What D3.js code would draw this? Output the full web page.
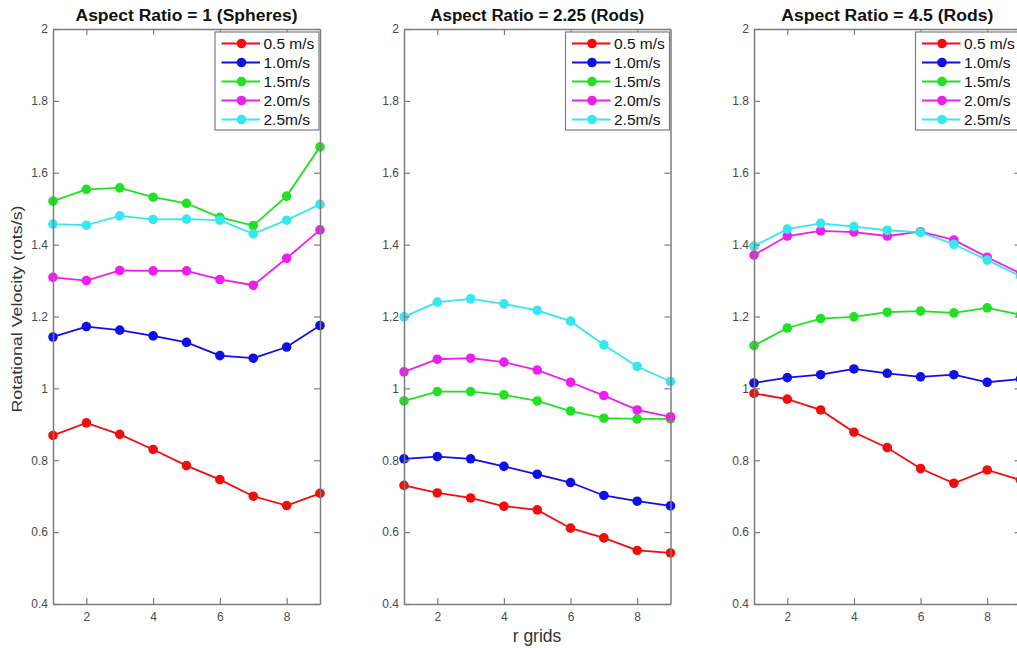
<!DOCTYPE html>
<html>
<head>
<meta charset="utf-8">
<script src="https://cdn.jsdelivr.net/npm/d3@7"></script>
<style>
  html, body { margin: 0; padding: 0; background: #fff; }
  svg { display: block; font-family: "Liberation Sans", Arial, Helvetica, sans-serif; }
</style>
</head>
<body>
<svg id="chart" width="1017" height="648"></svg>
<script>
// ---- data ----
const rGrids = [1, 2, 3, 4, 5, 6, 7, 8, 9];
const panelTitles = ["Aspect Ratio = 1 (Spheres)", "Aspect Ratio = 2.25 (Rods)", "Aspect Ratio = 4.5 (Rods)"];
const seriesNames = ["0.5 m/s", "1.0m/s", "1.5m/s", "2.0m/s", "2.5m/s"];
const xTicks = [2, 4, 6, 8];
const yTicks = [0.4, 0.6, 0.8, 1, 1.2, 1.4, 1.6, 1.8, 2];

// Aspect ratio 1 (spheres)
const ar1_05 = [0.869, 0.904, 0.872, 0.830, 0.785, 0.746, 0.700, 0.674, 0.708];
const ar1_10 = [1.143, 1.172, 1.162, 1.146, 1.128, 1.091, 1.084, 1.115, 1.175];
const ar1_15 = [1.521, 1.554, 1.558, 1.532, 1.515, 1.476, 1.453, 1.535, 1.672];
const ar1_20 = [1.309, 1.300, 1.328, 1.327, 1.327, 1.303, 1.287, 1.362, 1.441];
const ar1_25 = [1.457, 1.454, 1.480, 1.470, 1.471, 1.468, 1.430, 1.468, 1.512];

// Aspect ratio 2.25 (rods)
const ar225_05 = [0.730, 0.709, 0.695, 0.672, 0.662, 0.611, 0.584, 0.549, 0.542];
const ar225_10 = [0.804, 0.810, 0.804, 0.783, 0.761, 0.738, 0.702, 0.686, 0.673];
const ar225_15 = [0.965, 0.991, 0.991, 0.982, 0.965, 0.937, 0.917, 0.915, 0.915];
const ar225_20 = [1.046, 1.081, 1.084, 1.073, 1.051, 1.017, 0.980, 0.940, 0.921];
const ar225_25 = [1.199, 1.240, 1.249, 1.235, 1.217, 1.187, 1.121, 1.061, 1.019];

// Aspect ratio 4.5 (rods)
const ar45_05 = [0.986, 0.970, 0.940, 0.878, 0.835, 0.777, 0.736, 0.773, 0.745];
const ar45_10 = [1.015, 1.030, 1.038, 1.054, 1.042, 1.032, 1.038, 1.017, 1.026];
const ar45_15 = [1.119, 1.168, 1.194, 1.199, 1.212, 1.215, 1.210, 1.224, 1.205];
const ar45_20 = [1.371, 1.424, 1.438, 1.435, 1.424, 1.436, 1.413, 1.365, 1.320];
const ar45_25 = [1.396, 1.443, 1.459, 1.450, 1.440, 1.434, 1.401, 1.357, 1.312];

const panelData = [
  [ar1_05, ar1_10, ar1_15, ar1_20, ar1_25],
  [ar225_05, ar225_10, ar225_15, ar225_20, ar225_25],
  [ar45_05, ar45_10, ar45_15, ar45_20, ar45_25]
];

// ---- styles / layout ----
const colors = ["#f20d0d", "#1010e6", "#22e022", "#ee1eee", "#35e8f0"];
const axisColor = "#7d7d7d";
const tickTextColor = "#4a4a4a";
const panelX = [[53, 320], [404, 670.5], [754, 1020.5]];
const plotTop = 29, plotBottom = 604;

const svg = d3.select("#chart");

panelData.forEach((series, p) => {
  const [x0, x1] = panelX[p];
  const x = d3.scaleLinear().domain([1, 9]).range([x0, x1]);
  const y = d3.scaleLinear().domain([0.4, 2]).range([plotBottom, plotTop]);
  const g = svg.append("g");

  // data lines
  const line = d3.line().x((d, i) => x(rGrids[i])).y(d => y(d));
  series.forEach((vals, s) => {
    g.append("path").datum(vals)
      .attr("d", line).attr("fill", "none")
      .attr("stroke", colors[s]).attr("stroke-width", 1.8);
    g.selectAll(null).data(vals).enter().append("circle")
      .attr("cx", (d, i) => x(rGrids[i])).attr("cy", d => y(d))
      .attr("r", 4.8).attr("fill", colors[s]);
  });

  // axes (box with inward ticks)
  const tl = 6;
  const bAx = g.append("g").attr("transform", `translate(0,${plotBottom})`)
    .call(d3.axisBottom(x).tickValues(xTicks).tickSizeInner(-tl).tickSizeOuter(0).tickPadding(8).tickFormat(d3.format("d")));
  const tAx = g.append("g").attr("transform", `translate(0,${plotTop})`)
    .call(d3.axisTop(x).tickValues(xTicks).tickSizeInner(-tl).tickSizeOuter(0).tickFormat(""));
  const lAx = g.append("g").attr("transform", `translate(${x0},0)`)
    .call(d3.axisLeft(y).tickValues(yTicks).tickSizeInner(-tl).tickSizeOuter(0).tickPadding(5).tickFormat(d => String(+d.toFixed(1))));
  const rAx = g.append("g").attr("transform", `translate(${x1},0)`)
    .call(d3.axisRight(y).tickValues(yTicks).tickSizeInner(-tl).tickSizeOuter(0).tickFormat(""));
  [bAx, tAx, lAx, rAx].forEach(a => {
    a.select(".domain").attr("stroke", axisColor).attr("stroke-width", 1.5);
    a.selectAll(".tick line").attr("stroke", axisColor).attr("stroke-width", 1.2);
    a.selectAll(".tick text").attr("fill", tickTextColor).attr("font-size", 12)
      .attr("font-family", "'Liberation Sans', Arial, sans-serif");
  });
  lAx.selectAll(".tick text").attr("x", -5);

  // title
  const titleW = [222, 214, 212][p];
  g.append("text").attr("x", (x0 + x1) / 2).attr("y", 21)
    .attr("text-anchor", "middle").attr("font-weight", "bold")
    .attr("font-size", 16).attr("fill", "#111")
    .attr("textLength", titleW).attr("lengthAdjust", "spacingAndGlyphs")
    .text(panelTitles[p]);

  // legend
  const lx = x1 - 105, ly = plotTop + 3;
  const lg = g.append("g").attr("transform", `translate(${lx},${ly})`);
  lg.append("rect").attr("width", 104).attr("height", 98)
    .attr("fill", "#fff").attr("stroke", axisColor).attr("stroke-width", 1.2);
  seriesNames.forEach((name, s) => {
    const yy = 11.5 + s * 19;
    lg.append("line").attr("x1", 6.5).attr("x2", 45).attr("y1", yy).attr("y2", yy)
      .attr("stroke", colors[s]).attr("stroke-width", 1.8);
    lg.append("circle").attr("cx", 26.5).attr("cy", yy).attr("r", 4.8).attr("fill", colors[s]);
    lg.append("text").attr("x", 48.5).attr("y", yy + 5.5)
      .attr("font-size", 15.5).attr("fill", "#111").text(name);
  });
});

// axis labels
svg.append("text").attr("transform", "translate(22,309) rotate(-90)")
  .attr("text-anchor", "middle").attr("font-size", 15).attr("fill", "#333")
  .attr("textLength", 207).attr("lengthAdjust", "spacingAndGlyphs")
  .text("Rotational Velocity (rots/s)");
svg.append("text").attr("x", 537).attr("y", 642)
  .attr("text-anchor", "middle").attr("font-size", 17.5).attr("fill", "#333")
  .text("r grids");
</script>
</body>
</html>
